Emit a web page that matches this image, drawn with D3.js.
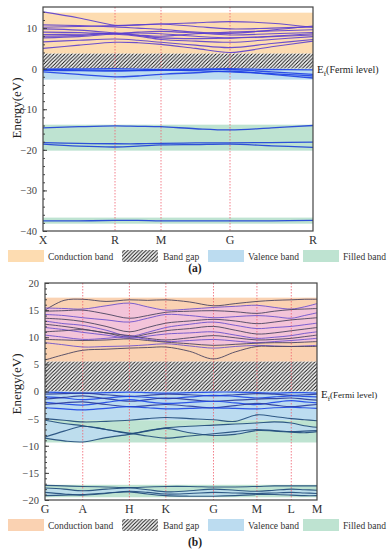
<!DOCTYPE html>
<html>
<head>
<meta charset="utf-8">
<script src="https://cdn.jsdelivr.net/npm/d3@7"></script>
<style>
body { margin: 0; background: #fff; }
svg { display: block; }
svg text { font-family: 'Liberation Serif', 'DejaVu Serif', serif; }
</style>
</head>
<body>
<div id="chart"></div>
<script>
// ---- panel (a) data ----
var aTickLabels = ["X", "R", "M", "G", "R"];
var aTickK = [0, 0.72, 1.18, 1.87, 2.70];
var aSampleK = [0, 0.36, 0.72, 0.95, 1.18, 1.525, 1.87, 2.285, 2.70];
var aConduction = [
    [14.0, 12.5, 10.7, 10.8, 11.0, 11.3, 11.6, 11.2, 10.2],
    [10.2, 10.4, 10.6, 10.8, 11.0, 10.4, 9.8, 10.0, 10.3],
    [10.8, 10.6, 10.3, 10.0, 9.7, 9.0, 8.7, 9.5, 10.5],
    [9.8, 9.5, 8.8, 8.3, 8.0, 8.6, 9.0, 9.3, 9.6],
    [9.0, 8.9, 8.6, 9.0, 9.2, 8.8, 8.3, 8.6, 8.9],
    [8.0, 8.2, 8.7, 8.8, 8.6, 8.0, 7.6, 8.0, 8.6],
    [8.4, 8.5, 8.7, 8.2, 7.6, 7.4, 7.5, 7.9, 8.3],
    [7.6, 7.9, 8.5, 8.0, 7.2, 6.8, 6.5, 7.2, 7.9],
    [6.6, 7.0, 7.3, 7.0, 6.5, 5.8, 5.2, 6.2, 7.2],
    [5.0, 5.8, 6.5, 6.4, 6.0, 5.0, 4.0, 5.4, 6.8]
];
var aValence = [
    [-0.1, -0.05, 0, -0.1, -0.2, -0.1, 0, -0.2, -0.3],
    [-0.4, -0.5, -0.6, -0.5, -0.4, -0.3, -0.2, -0.8, -1.4],
    [-0.2, -0.3, -0.4, -0.4, -0.3, -0.5, -0.8, -1.2, -1.8],
    [-0.8, -1.4, -2.0, -1.8, -1.4, -1.0, -0.6, -1.4, -2.3]
];
var aFilled = [
    [-14.6, -14.3, -14.1, -14.2, -14.3, -14.8, -15.1, -14.6, -14.0],
    [-18.2, -18.4, -18.5, -18.5, -18.4, -18.3, -18.3, -18.2, -18.1],
    [-18.6, -19.1, -19.3, -19.1, -18.8, -18.7, -18.6, -19.0, -19.4],
    [-37.5, -37.5, -37.4, -37.4, -37.5, -37.5, -37.5, -37.5, -37.4]
];
var aConductionRange = [3.7, 13.8];
var aGapRange = [0, 3.7];
var aValenceRange = [-2.7, 0];
var aFilledRanges = [[-20.2, -13.8], [-38.2, -36.7]];
var aMajorTicks = [10, 0, -10, -20, -30, -40];

// ---- panel (b) data ----
var bTickLabels = ["G", "A", "H", "K", "G", "M", "L", "M"];
var bTickK = [0, 0.377, 0.843, 1.207, 1.683, 2.117, 2.46, 2.717];
var bSampleK = [0, 0.19, 0.377, 0.61, 0.843, 1.025, 1.207, 1.445, 1.683, 1.9, 2.117, 2.29, 2.46, 2.59, 2.717];
var bConduction = [
    [15.0, 16.8, 17.0, 16.6, 16.9, 16.8, 16.9, 16.5, 15.8, 16.2, 16.6, 16.8, 16.9, 17.0, 17.0],
    [15.4, 15.3, 15.2, 15.8, 16.3, 15.6, 15.0, 15.2, 15.5, 15.7, 15.9, 15.5, 15.2, 15.6, 16.2],
    [14.8, 14.9, 15.0, 14.3, 13.5, 14.0, 14.6, 14.8, 14.9, 14.7, 14.4, 14.8, 15.1, 15.2, 15.3],
    [14.2, 14.0, 13.6, 13.2, 12.8, 13.5, 14.2, 14.0, 13.6, 13.8, 14.0, 13.8, 13.5, 14.0, 14.5],
    [13.5, 13.3, 12.9, 12.0, 11.0, 11.8, 12.6, 13.0, 13.3, 13.0, 12.5, 12.8, 13.2, 13.4, 13.6],
    [13.0, 12.5, 12.2, 11.3, 10.2, 10.9, 11.8, 12.4, 12.8, 12.2, 11.6, 11.8, 12.0, 12.3, 12.6],
    [12.4, 12.0, 11.5, 10.8, 10.0, 10.6, 11.2, 11.6, 12.0, 11.3, 10.6, 10.8, 11.2, 11.5, 11.8],
    [11.8, 11.4, 10.9, 10.4, 9.8, 10.2, 10.6, 10.8, 11.0, 10.4, 9.8, 10.0, 10.3, 10.7, 11.0],
    [11.0, 11.2, 11.4, 10.8, 10.3, 9.8, 9.5, 9.9, 10.3, 9.9, 9.5, 9.6, 9.8, 10.1, 10.4],
    [10.4, 10.0, 9.6, 9.8, 10.1, 9.6, 9.2, 9.4, 9.6, 9.3, 9.0, 9.2, 9.4, 9.6, 9.8],
    [9.6, 9.5, 9.4, 9.5, 9.7, 9.4, 9.1, 8.8, 8.5, 8.7, 8.9, 9.0, 9.0, 9.1, 9.2],
    [9.0, 8.6, 8.2, 8.3, 8.4, 8.6, 8.8, 8.4, 8.0, 8.3, 8.5, 8.4, 8.3, 8.4, 8.5],
    [5.8, 6.8, 7.6, 7.8, 8.0, 8.1, 8.2, 7.4, 6.0, 7.3, 8.3, 8.3, 8.3, 8.3, 8.3]
];
var bValence = [
    [-0.1, -0.2, -0.3, -0.2, -0.1, -0.2, -0.3, -0.2, -0.1, -0.1, -0.2, -0.3, -0.2, -0.2, -0.3],
    [-0.5, -0.4, -0.3, -0.6, -0.9, -0.7, -0.5, -0.6, -0.8, -0.6, -0.4, -0.5, -0.7, -0.6, -0.5],
    [-1.0, -1.2, -1.5, -1.2, -0.9, -1.1, -1.3, -1.0, -0.7, -0.9, -1.2, -1.0, -0.8, -0.9, -1.0],
    [-1.4, -1.1, -0.8, -1.3, -1.8, -1.5, -1.2, -1.5, -1.8, -1.6, -1.4, -1.3, -1.2, -1.4, -1.6],
    [-2.0, -2.3, -2.5, -2.0, -1.5, -1.9, -2.2, -2.0, -1.8, -2.1, -2.4, -2.0, -1.7, -1.9, -2.1],
    [-2.4, -2.1, -1.9, -2.4, -2.8, -2.6, -2.4, -2.7, -3.0, -2.6, -2.2, -2.5, -2.8, -2.6, -2.4],
    [-3.0, -3.2, -3.4, -3.1, -2.8, -3.0, -3.2, -3.1, -3.0, -3.1, -3.2, -3.0, -2.9, -3.0, -3.1]
];
var bMiddle = [
    [-5.0, -5.3, -5.6, -5.5, -5.3, -5.0, -4.8, -5.0, -5.2, -5.5, -4.3, -4.6, -5.0, -5.2, -5.4],
    [-5.3, -5.9, -6.3, -7.0, -7.7, -7.2, -6.7, -6.4, -6.2, -6.0, -5.8, -5.6, -5.8, -6.3, -6.6],
    [-8.4, -7.3, -6.4, -7.0, -7.7, -8.2, -8.6, -8.2, -7.8, -7.4, -7.0, -7.2, -7.4, -7.3, -7.2],
    [-8.6, -9.1, -9.3, -8.5, -7.9, -7.3, -6.8, -7.6, -8.1, -7.9, -7.2, -7.3, -7.5, -7.6, -7.4]
];
var bFilled = [
    [-17.3, -17.4, -17.5, -17.6, -17.7, -17.6, -17.5, -17.5, -17.6, -17.6, -17.5, -17.4, -17.4, -17.4, -17.4],
    [-17.8, -18.0, -18.3, -18.0, -17.8, -18.1, -18.5, -18.3, -18.0, -18.2, -18.4, -18.2, -18.0, -18.1, -18.2],
    [-18.6, -18.9, -19.1, -18.8, -18.4, -18.6, -18.9, -18.8, -18.6, -18.7, -18.8, -18.7, -18.6, -18.7, -18.8],
    [-19.2, -19.1, -19.0, -18.7, -18.5, -18.9, -19.2, -19.3, -19.3, -19.2, -19.0, -19.0, -19.1, -19.2, -19.2]
];
var bConductionRange = [5.5, 17.3];
var bGapRange = [0, 5.5];
var bValenceRange = [-5.3, 0];
var bFilledRanges = [[-9.4, -5.3], [-19.5, -17.2]];
var bMajorTicks = [20, 15, 10, 5, 0, -5, -10, -15, -20];

var legendItems = ["Conduction band", "Band gap", "Valence band", "Filled band"];

var width = 389, height = 550;

var svg = d3.select("#chart").append("svg")
    .attr("width", width)
    .attr("height", height);

var defs = svg.append("defs");
var hatch = defs.append("pattern")
    .attr("id", "hatch")
    .attr("patternUnits", "userSpaceOnUse")
    .attr("width", 3.6)
    .attr("height", 3.6);
hatch.append("rect").attr("width", 3.6).attr("height", 3.6).attr("fill", "#fff");
hatch.append("path")
    .attr("d", "M-0.9,0.9 L0.9,-0.9 M0,3.6 L3.6,0 M2.7,4.5 L4.5,2.7")
    .attr("stroke", "#111")
    .attr("stroke-width", 1);

function drawPanel(o) {
    var x = d3.scaleLinear().domain([0, o.tickK[o.tickK.length - 1]]).range([o.left, o.right]);
    var y = d3.scaleLinear().domain(o.yDomain).range([o.bottom, o.top]);
    var g = svg.append("g");

    function band(range, fill) {
        g.append("rect")
            .attr("x", x.range()[0])
            .attr("width", x.range()[1] - x.range()[0])
            .attr("y", y(range[1]))
            .attr("height", y(range[0]) - y(range[1]))
            .attr("fill", fill);
    }

    band(o.conductionRange, o.conductionColor);
    band(o.gapRange, "url(#hatch)");
    band(o.valenceRange, "#bcdcf0");
    o.filledRanges.forEach(function (r) { band(r, "#bee3d1"); });

    // shaded areas between two band curves
    (o.areas || []).forEach(function (a) {
        var area = d3.area()
            .x(function (d, i) { return x(o.sampleK[i]); })
            .y0(function (d, i) { return y(a.low[i]); })
            .y1(function (d, i) { return y(a.high[i]); })
            .curve(d3.curveCatmullRom);
        g.append("path")
            .datum(a.low)
            .attr("d", area)
            .attr("fill", a.fill)
            .attr("opacity", a.opacity);
    });

    // high-symmetry point guides
    g.selectAll(".kline")
        .data(o.tickK.slice(1, -1))
        .enter().append("line")
        .attr("x1", function (d) { return x(d); })
        .attr("x2", function (d) { return x(d); })
        .attr("y1", o.top)
        .attr("y2", o.bottom)
        .attr("stroke", "#f0606e")
        .attr("stroke-width", 0.8)
        .attr("stroke-dasharray", "1.5,1.5");

    var line = d3.line()
        .x(function (d, i) { return x(o.sampleK[i]); })
        .y(function (d) { return y(d); })
        .curve(d3.curveCatmullRom);

    o.series.forEach(function (s) {
        g.selectAll(null)
            .data(s.bands)
            .enter().append("path")
            .attr("d", line)
            .attr("fill", "none")
            .attr("stroke", function (d, i) { return s.colors[i % s.colors.length]; })
            .attr("stroke-width", s.width)
            .attr("opacity", 0.9);
    });

    // frame
    g.append("rect")
        .attr("x", o.left).attr("y", o.top)
        .attr("width", o.right - o.left).attr("height", o.bottom - o.top)
        .attr("fill", "none")
        .attr("stroke", "#444")
        .attr("stroke-width", 1.2);

    // y axis, ticks inward
    var minor = d3.range(o.yDomain[0], o.yDomain[1] + 0.01, o.minorStep);
    g.append("g")
        .attr("transform", "translate(" + o.left + ",0)")
        .call(d3.axisLeft(y).tickValues(minor).tickSize(-2).tickFormat(""))
        .call(function (a) { a.select(".domain").remove(); a.selectAll("line").attr("stroke", "#444"); });
    var yAxis = g.append("g")
        .attr("transform", "translate(" + o.left + ",0)")
        .call(d3.axisLeft(y).tickValues(o.majorTicks).tickSize(-4).tickPadding(6)
            .tickFormat(function (d) { return d < 0 ? "\u2212" + Math.abs(d) : d; }));
    yAxis.attr("font-family", null).attr("font-size", 10.5);
    yAxis.select(".domain").remove();
    yAxis.selectAll("line").attr("stroke", "#444");
    yAxis.selectAll("text").attr("fill", "#444");

    // x labels
    g.selectAll(".klabel")
        .data(o.tickK)
        .enter().append("text")
        .attr("x", function (d) { return x(d); })
        .attr("y", o.bottom + 13)
        .attr("text-anchor", "middle")
        .attr("font-size", 12)
        .attr("fill", "#333")
        .text(function (d, i) { return o.tickLabels[i]; });

    // axis title
    g.append("text")
        .attr("transform", "translate(21," + o.titleY + ") rotate(-90)")
        .attr("text-anchor", "middle")
        .attr("font-size", 13)
        .attr("fill", "#222")
        .text("Energy(eV)");

    // Fermi level label
    var ef = g.append("text")
        .attr("x", o.right + 4)
        .attr("y", y(0) + o.efDy)
        .attr("fill", "#222")
        .attr("font-size", 11);
    ef.append("tspan").text("E");
    ef.append("tspan").attr("font-size", 7).attr("dy", 3).text("f");
    ef.append("tspan").attr("font-size", o.efSize).attr("dy", -3).text("(Fermi level)");

    // legend
    var swatchX = [8, 122, 208, 303];
    var swatchFill = [o.conductionColor, "url(#hatch)", "#bcdcf0", "#bee3d1"];
    var leg = g.append("g").attr("transform", "translate(0," + o.legendY + ")");
    legendItems.forEach(function (name, i) {
        leg.append("rect")
            .attr("x", swatchX[i]).attr("y", -6)
            .attr("width", 36).attr("height", 12)
            .attr("fill", swatchFill[i]);
        leg.append("text")
            .attr("x", swatchX[i] + (i === 1 ? 41 : 40))
            .attr("y", 3.5)
            .attr("font-size", 9.5)
            .attr("fill", "#333")
            .text(name);
    });

    g.append("text")
        .attr("x", 195)
        .attr("y", o.captionY)
        .attr("text-anchor", "middle")
        .attr("font-size", 11.5)
        .attr("font-weight", "bold")
        .attr("fill", "#222")
        .text(o.caption);
}

drawPanel({
    left: 43, right: 313, top: 7, bottom: 231,
    yDomain: [-40, 15.2], minorStep: 2, majorTicks: aMajorTicks,
    tickK: aTickK, tickLabels: aTickLabels, sampleK: aSampleK,
    conductionRange: aConductionRange, gapRange: aGapRange,
    valenceRange: aValenceRange, filledRanges: aFilledRanges,
    conductionColor: "#fddcb1",
    series: [
        { bands: aConduction, colors: ["#5b3fcf"], width: 1.1 },
        { bands: aValence, colors: ["#1d3fe6"], width: 1.3 },
        { bands: aFilled, colors: ["#1d3fd8"], width: 1.3 }
    ],
    titleY: 108, efDy: 4, efSize: 10,
    legendY: 256, captionY: 272, caption: "(a)"
});

drawPanel({
    left: 45, right: 317, top: 283, bottom: 500,
    yDomain: [-20, 20], minorStep: 1, majorTicks: bMajorTicks,
    tickK: bTickK, tickLabels: bTickLabels, sampleK: bSampleK,
    conductionRange: bConductionRange, gapRange: bGapRange,
    valenceRange: bValenceRange, filledRanges: bFilledRanges,
    conductionColor: "#fad2b2",
    areas: [
        { low: bConduction[10], high: bConduction[1], fill: "#f0bfe6", opacity: 0.75 },
        { low: bMiddle[3], high: bMiddle[1], fill: "#bcdcf0", opacity: 0.9 },
        { low: bFilled[3], high: bFilled[1], fill: "#bcdcf0", opacity: 0.8 }
    ],
    series: [
        { bands: bConduction, colors: ["#4b4560", "#6e52cc"], width: 1 },
        { bands: bValence, colors: ["#1d45e6", "#2a3a9a"], width: 1.2 },
        { bands: bMiddle, colors: ["#1f4a7a"], width: 1.1 },
        { bands: bFilled, colors: ["#1f4a7a"], width: 1.1 }
    ],
    titleY: 384, efDy: 6, efSize: 9,
    legendY: 525, captionY: 546, caption: "(b)"
});
</script>
</body>
</html>
